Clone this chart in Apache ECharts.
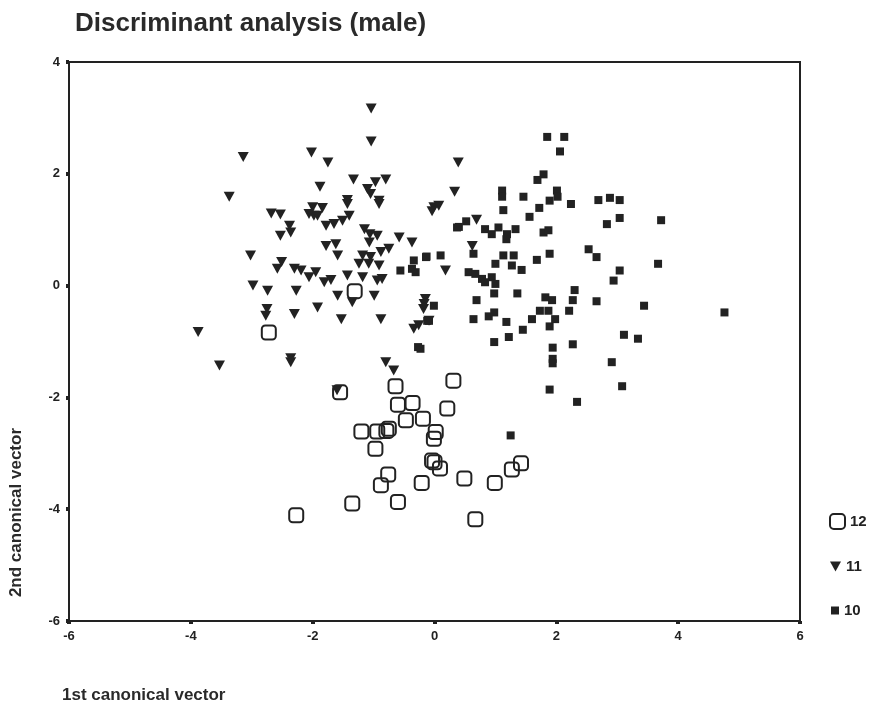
<!DOCTYPE html>
<html><head><meta charset="utf-8">
<script src="https://cdn.jsdelivr.net/npm/echarts@6/dist/echarts.min.js"></script>
<style>html,body{margin:0;padding:0;background:#fff}#c{width:883px;height:713px}</style>
</head><body><div id="c"></div>
<script>
const titleText = 'Discriminant analysis (male)';
const xName = '1st canonical vector';
const yName = '2nd canonical vector';
const xTicks = [-6, -4, -2, 0, 2, 4, 6];
const yTicks = [-6, -4, -2, 0, 2, 4];
const groupNames = ['12', '11', '10'];

const group12 = [[-1.55,-1.91],[-0.64,-1.80],[0.31,-1.70],[-0.60,-2.13],[-0.36,-2.10],[0.21,-2.20],[-1.20,-2.61],[-0.94,-2.61],[-0.75,-2.56],[-0.79,-2.60],[-0.47,-2.41],[-0.19,-2.38],[0.02,-2.62],[-0.01,-2.74],[-0.97,-2.92],[-0.04,-3.13],[0.00,-3.16],[0.09,-3.27],[-0.76,-3.38],[-0.88,-3.57],[-0.21,-3.53],[0.49,-3.45],[0.99,-3.53],[1.27,-3.29],[1.42,-3.18],[-1.35,-3.90],[-0.60,-3.87],[-2.27,-4.11],[0.67,-4.18],[-2.72,-0.84],[-1.31,-0.10]];

const group11 = [[-1.04,3.17],[-1.04,2.58],[-3.14,2.30],[-2.02,2.38],[-1.75,2.20],[-3.37,1.59],[-1.88,1.77],[-1.33,1.90],[-0.97,1.85],[-1.10,1.73],[-0.80,1.90],[-1.43,1.53],[-0.91,1.52],[-1.05,1.64],[-2.68,1.29],[-2.53,1.27],[-2.00,1.40],[-1.84,1.39],[-1.98,1.25],[-1.40,1.25],[0.39,2.20],[0.33,1.68],[-0.01,1.40],[-0.04,1.33],[0.07,1.43],[-2.06,1.28],[-1.92,1.25],[-1.43,1.46],[-0.91,1.46],[-1.78,1.07],[-1.65,1.10],[-1.51,1.16],[-2.38,1.07],[-2.36,0.95],[-2.53,0.89],[-1.15,1.01],[-1.06,0.92],[-0.94,0.89],[-1.07,0.77],[-0.58,0.86],[-0.37,0.77],[-1.78,0.71],[-1.62,0.74],[-1.59,0.54],[-3.02,0.54],[-1.18,0.54],[-1.05,0.51],[-0.88,0.60],[-0.75,0.66],[-1.24,0.39],[-1.08,0.39],[-0.91,0.36],[-2.51,0.42],[-2.58,0.30],[-2.30,0.30],[-2.19,0.27],[-2.06,0.15],[-1.95,0.24],[-1.81,0.06],[-1.70,0.10],[-1.43,0.18],[-1.18,0.15],[-0.94,0.09],[-0.86,0.12],[-2.98,0.00],[-2.74,-0.09],[-2.27,-0.09],[-1.59,-0.18],[-1.35,-0.30],[-0.99,-0.18],[-2.75,-0.42],[-2.77,-0.54],[-2.30,-0.51],[-1.92,-0.39],[-1.53,-0.60],[-0.88,-0.60],[-3.88,-0.83],[-3.53,-1.43],[-2.36,-1.37],[-2.36,-1.30],[-0.80,-1.37],[-0.67,-1.52],[-0.15,-0.24],[-0.18,-0.42],[-0.34,-0.77],[-0.26,-0.71],[0.18,0.27],[0.69,1.18],[0.62,0.71],[-0.17,-0.33],[-0.09,-0.63],[-1.60,-1.87]];

const group10 = [[1.85,2.66],[2.13,2.66],[2.06,2.40],[1.79,1.99],[1.69,1.89],[1.11,1.70],[1.11,1.59],[1.46,1.59],[2.01,1.70],[2.02,1.59],[1.89,1.52],[2.24,1.46],[1.72,1.39],[1.13,1.35],[1.56,1.23],[2.69,1.53],[2.88,1.57],[3.04,1.53],[3.04,1.21],[2.83,1.10],[0.40,1.05],[0.52,1.15],[0.83,1.01],[0.94,0.92],[1.05,1.04],[1.19,0.92],[1.33,1.01],[1.18,0.83],[1.79,0.95],[1.87,0.99],[2.53,0.65],[3.72,1.17],[2.66,0.51],[3.67,0.39],[3.04,0.27],[-0.13,0.52],[0.10,0.54],[0.64,0.57],[0.56,0.24],[0.67,0.21],[0.78,0.12],[0.94,0.15],[1.00,0.39],[1.00,0.03],[0.83,0.06],[1.13,0.54],[1.30,0.54],[1.27,0.36],[1.43,0.28],[1.68,0.46],[1.89,0.57],[2.94,0.09],[0.69,-0.26],[0.98,-0.14],[1.36,-0.14],[1.82,-0.21],[1.93,-0.26],[2.30,-0.08],[2.27,-0.26],[2.66,-0.28],[3.44,-0.36],[-0.01,-0.36],[-0.09,-0.63],[0.64,-0.60],[0.89,-0.55],[0.98,-0.48],[1.18,-0.65],[1.60,-0.60],[1.45,-0.79],[1.73,-0.45],[1.87,-0.45],[1.98,-0.60],[1.89,-0.73],[2.21,-0.45],[0.98,-1.01],[1.22,-0.92],[1.94,-1.11],[1.94,-1.31],[1.94,-1.39],[2.27,-1.05],[3.11,-0.88],[3.34,-0.95],[2.91,-1.37],[1.89,-1.86],[3.08,-1.80],[2.34,-2.08],[-0.23,-1.13],[4.76,-0.48],[1.25,-2.68],[-0.14,0.51],[-0.34,0.45],[-0.37,0.30],[-0.56,0.27],[-0.31,0.24],[0.37,1.04],[-0.12,-0.63],[-0.27,-1.10]];

const FONT = 'Liberation Sans, Arial, sans-serif';
const INK = '#222';
const triPath = 'path://M0,0 L10,0 L5,9 Z';

const chart = echarts.init(document.getElementById('c'), null, {renderer: 'canvas'});

function mkAxis(ticks) {
  return {
    type: 'value',
    min: ticks[0], max: ticks[ticks.length - 1], interval: 2,
    axisLine: {show: true, onZero: false, lineStyle: {color: INK, width: 2}},
    axisTick: {show: true, length: 3, lineStyle: {color: INK, width: 4}},
    axisLabel: {color: '#222', fontFamily: FONT, fontWeight: 'bold', fontSize: 13, margin: 9},
    splitLine: {show: false}
  };
}

const legendBase = {
  orient: 'vertical', left: 824, itemGap: 12,
  textStyle: {color: '#222', fontFamily: FONT, fontWeight: 'bold', fontSize: 15},
  selectedMode: false
};

chart.setOption({
  backgroundColor: '#fff',
  animation: false,
  title: {
    text: titleText, left: 70, top: 6,
    textStyle: {color: '#2a2a2a', fontFamily: FONT, fontWeight: 'bold', fontSize: 26}
  },
  grid: {left: 69, right: 83, top: 62, bottom: 92, show: true, borderColor: INK, borderWidth: 2, backgroundColor: 'transparent'},
  xAxis: mkAxis(xTicks),
  yAxis: mkAxis(yTicks),
  legend: [
    Object.assign({}, legendBase, {top: 508, itemWidth: 15, itemHeight: 15, data: [{name: groupNames[0], icon: 'roundRect'}]}),
    Object.assign({}, legendBase, {top: 554, left: 825, itemWidth: 11, itemHeight: 10, data: [{name: groupNames[1], icon: triPath}]}),
    Object.assign({}, legendBase, {top: 598, left: 826, itemWidth: 8, itemHeight: 8, data: [{name: groupNames[2], icon: 'rect'}]})
  ],
  graphic: [
    {type: 'text', left: 8, top: 428, rotation: Math.PI / 2,
      style: {text: yName, fill: '#2a2a2a', font: 'bold 17px ' + FONT}},
    {type: 'text', left: 62, top: 687,
      style: {text: xName, fill: '#2a2a2a', font: 'bold 17px ' + FONT}}
  ],
  series: [
    {name: groupNames[2], type: 'scatter', data: group10, symbol: 'rect', symbolSize: 8,
      itemStyle: {color: INK, opacity: 1}},
    {name: groupNames[1], type: 'scatter', data: group11, symbol: triPath, symbolSize: [11, 10],
      itemStyle: {color: INK, opacity: 1}},
    {name: groupNames[0], type: 'scatter', data: group12, symbol: 'roundRect', symbolSize: 14,
      itemStyle: {color: 'rgba(255,255,255,0)', borderColor: INK, borderWidth: 2, opacity: 1}}
  ]
});
</script>
</body></html>
